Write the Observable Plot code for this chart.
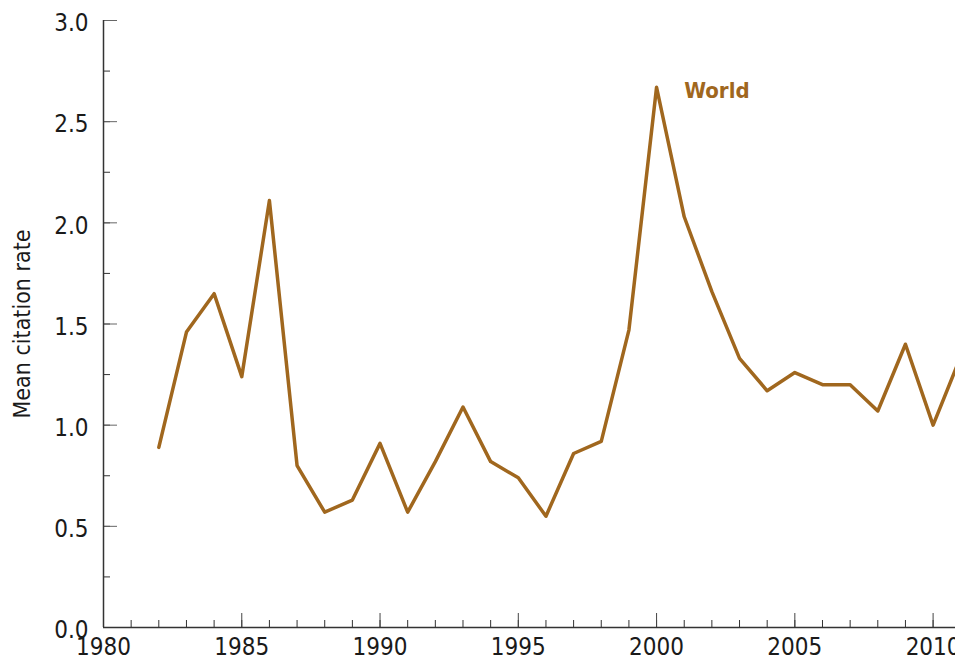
<!DOCTYPE html>
<html>
<head>
<meta charset="utf-8">
<script src="https://cdn.jsdelivr.net/npm/d3@7"></script>
<script src="https://cdn.jsdelivr.net/npm/@observablehq/plot@0.6"></script>
<style>
  html, body { margin: 0; padding: 0; background: #fff; }
  #chart svg { display: block; }
  #chart svg text { font-stretch: condensed; }
</style>
</head>
<body>
<div id="chart"></div>
<script>
const years = [1982,1983,1984,1985,1986,1987,1988,1989,1990,1991,1992,1993,1994,1995,1996,1997,1998,1999,2000,2001,2002,2003,2004,2005,2006,2007,2008,2009,2010,2011];
const rates = [0.89,1.46,1.65,1.24,2.11,0.80,0.57,0.63,0.91,0.57,0.82,1.09,0.82,0.74,0.55,0.86,0.92,1.47,2.67,2.03,1.66,1.33,1.17,1.26,1.20,1.20,1.07,1.40,1.00,1.34];
const seriesName = "World";
const xMajor = [1980,1985,1990,1995,2000,2005,2010];
const xMinor = d3.range(1980, 2011);
const yMajor = [0,0.5,1.0,1.5,2.0,2.5,3.0];
const yMinor = d3.range(0, 3.01, 0.25);

const data = years.map((y, i) => ({year: y, rate: rates[i]}));
const font = "'DejaVu Sans', sans-serif";
const lineColor = "#A0671E";
const axisColor = "#333";
const textColor = "#1a1a1a";

const plot = Plot.plot({
  width: 955,
  height: 661,
  marginLeft: 103,
  marginRight: 0,
  marginTop: 20,
  marginBottom: 34,
  style: {fontFamily: font, fontSize: "24px", color: textColor, background: "#fff"},
  x: {domain: [1980, 2010.81], label: null},
  y: {domain: [0, 3], label: null},
  marks: [
    Plot.axisY(yMinor, {tickSize: -7, fill: "none", stroke: axisColor}),
    Plot.axisY(yMajor, {tickSize: -14, fill: "none", stroke: "#666"}),
    Plot.axisY(yMajor, {tickSize: 0, tickPadding: 15, tickFormat: d3.format(".1f"), dy: 3, fontSize: 24, fill: textColor}),
    Plot.axisX(xMinor, {tickSize: -7, fill: "none", stroke: axisColor}),
    Plot.axisX(xMajor, {tickSize: -14, fill: "none", stroke: "#444"}),
    Plot.axisX(xMajor, {tickSize: 0, tickPadding: 10, tickFormat: d => String(d), fontSize: 24, fill: textColor}),
    Plot.ruleX([1980], {stroke: axisColor, strokeWidth: 1.5}),
    Plot.ruleY([0], {stroke: axisColor, strokeWidth: 1.5}),
    Plot.line(data, {x: "year", y: "rate", stroke: lineColor, strokeWidth: 3.5, clip: true}),
    Plot.text([seriesName], {x: 2001.0, y: 2.65, text: d => d, textAnchor: "start", fill: lineColor, fontSize: 22, fontWeight: "bold"}),
    Plot.text(["Mean citation rate"], {frameAnchor: "left", textAnchor: "middle", dx: -81, rotate: -90, text: d => d, fontSize: 23, fill: textColor})
  ]
});
document.getElementById("chart").appendChild(plot);
</script>
</body>
</html>
